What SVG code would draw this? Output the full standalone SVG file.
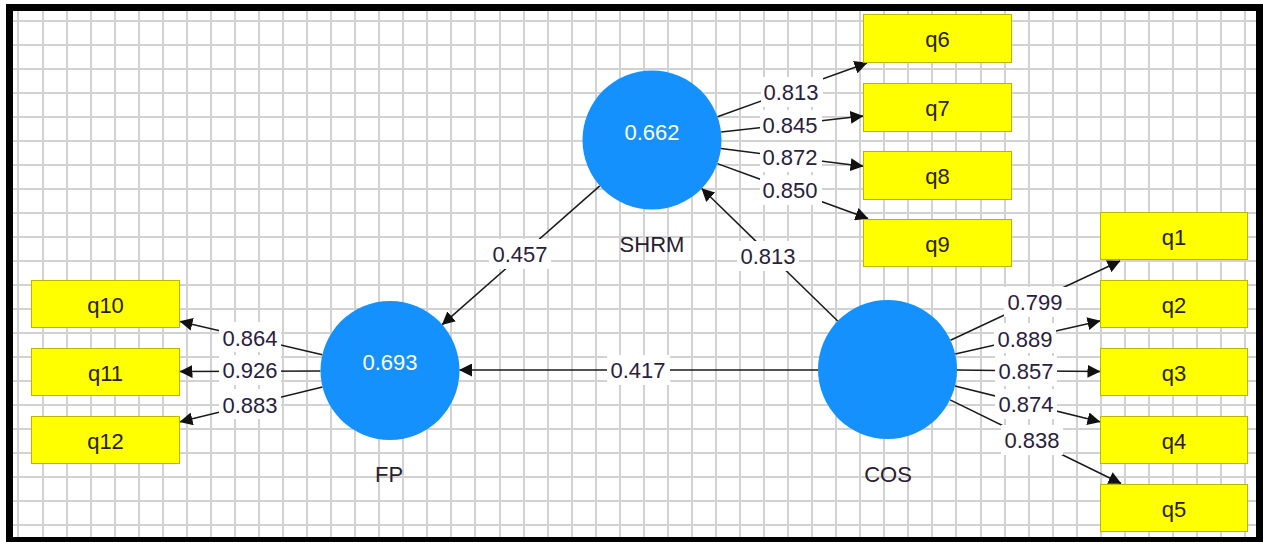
<svg xmlns="http://www.w3.org/2000/svg" width="1263" height="542" viewBox="0 0 1263 542">
<style>
text{font-family:"Liberation Sans",Arial,sans-serif;font-size:22px;text-anchor:middle}
.grid{stroke:#d2d2d2;stroke-width:2;fill:none}
.c{fill:#1591fe}
.cv{fill:#ffffff}
.nm{fill:#2a2030}
.box{fill:#ffff00;stroke:#b8b800;stroke-width:1}
.bt{fill:#2a2010}
.ln{stroke:#1a1a1a;stroke-width:1.5;fill:none;marker-end:url(#ah)}
.lb{fill:#ffffff}
.lt{fill:#2a2040}
</style>
<defs>
<marker id="ah" viewBox="0 0 13 13" markerWidth="13" markerHeight="13" refX="12.5" refY="6.5" orient="auto" markerUnits="userSpaceOnUse">
<path d="M0,0 L13,6.5 L0,13 z" fill="#111"/>
</marker>
</defs>
<rect x="0" y="0" width="1263" height="542" fill="#ffffff"/>
<path class="grid" d="M18 11V537M43 11V537M67 11V537M91 11V537M115 11V537M139 11V537M163 11V537M187 11V537M211 11V537M235 11V537M259 11V537M283 11V537M307 11V537M331 11V537M355 11V537M379 11V537M403 11V537M427 11V537M451 11V537M475 11V537M500 11V537M524 11V537M548 11V537M572 11V537M596 11V537M620 11V537M644 11V537M668 11V537M692 11V537M716 11V537M740 11V537M764 11V537M788 11V537M812 11V537M836 11V537M860 11V537M884 11V537M908 11V537M932 11V537M956 11V537M981 11V537M1005 11V537M1029 11V537M1053 11V537M1077 11V537M1101 11V537M1125 11V537M1149 11V537M1173 11V537M1197 11V537M1221 11V537M1245 11V537M13 21H1256M13 45H1256M13 69H1256M13 93H1256M13 117H1256M13 141H1256M13 165H1256M13 189H1256M13 213H1256M13 237H1256M13 261H1256M13 285H1256M13 309H1256M13 333H1256M13 357H1256M13 381H1256M13 405H1256M13 429H1256M13 453H1256M13 477H1256M13 501H1256M13 525H1256"/>
<g id="connectors">
<line class="ln" x1="717.5" y1="116.7" x2="867" y2="63"/>
<line class="ln" x1="721.1" y1="132.1" x2="863" y2="116"/>
<line class="ln" x1="721" y1="148.6" x2="863" y2="166.2"/>
<line class="ln" x1="717.4" y1="163.6" x2="868" y2="218.5"/>
<line class="ln" x1="950.5" y1="340.2" x2="1120" y2="261"/>
<line class="ln" x1="955.2" y1="354" x2="1100" y2="320.9"/>
<line class="ln" x1="957" y1="370.1" x2="1100" y2="371.4"/>
<line class="ln" x1="955" y1="386.1" x2="1100" y2="421.8"/>
<line class="ln" x1="950.1" y1="399.8" x2="1121" y2="483.5"/>
<line class="ln" x1="322.3" y1="354.7" x2="180" y2="321.4"/>
<line class="ln" x1="320.5" y1="370.9" x2="180" y2="371.6"/>
<line class="ln" x1="322.5" y1="387" x2="180" y2="421.8"/>
<line class="ln" x1="599.8" y1="185.9" x2="442.2" y2="324.6"/>
<line class="ln" x1="837.7" y1="321" x2="701.8" y2="188.5"/>
<line class="ln" x1="818" y1="370" x2="459.5" y2="370"/>
<g id="labels">
<rect class="lb" x="761" y="77" width="62" height="30"/>
<rect class="lb" x="760" y="110" width="62" height="30"/>
<rect class="lb" x="760" y="142" width="62" height="30"/>
<rect class="lb" x="760" y="175" width="62" height="30"/>
<rect class="lb" x="489" y="239" width="62" height="30"/>
<rect class="lb" x="737" y="241" width="62" height="30"/>
<rect class="lb" x="607" y="355" width="63" height="30"/>
<rect class="lb" x="219" y="322" width="62" height="30"/>
<rect class="lb" x="219" y="355" width="62" height="30"/>
<rect class="lb" x="219" y="389" width="62" height="30"/>
<rect class="lb" x="1004" y="287" width="62" height="30"/>
<rect class="lb" x="994" y="323" width="62" height="30"/>
<rect class="lb" x="995" y="356" width="62" height="30"/>
<rect class="lb" x="995" y="389" width="62" height="30"/>
<rect class="lb" x="1001" y="425" width="62" height="30"/>
<text class="lt" x="791" y="100">0.813</text>
<text class="lt" x="790" y="133">0.845</text>
<text class="lt" x="790" y="165">0.872</text>
<text class="lt" x="790" y="198">0.850</text>
<text class="lt" x="520" y="262">0.457</text>
<text class="lt" x="768" y="264">0.813</text>
<text class="lt" x="638" y="378">0.417</text>
<text class="lt" x="250" y="346">0.864</text>
<text class="lt" x="250" y="378">0.926</text>
<text class="lt" x="250" y="413">0.883</text>
<text class="lt" x="1035" y="310">0.799</text>
<text class="lt" x="1025" y="347">0.889</text>
<text class="lt" x="1026" y="379">0.857</text>
<text class="lt" x="1026" y="412">0.874</text>
<text class="lt" x="1032" y="448">0.838</text>
</g>
</g>
<g id="SHRM">
<circle class="c" cx="652" cy="140" r="69.5"/>
<text class="cv" x="652" y="140">0.662</text>
<text class="nm" x="652" y="252">SHRM</text>
</g>
<g id="FP">
<circle class="c" cx="390" cy="370.5" r="69.5"/>
<text class="cv" x="390" y="370">0.693</text>
<text class="nm" x="389" y="482">FP</text>
</g>
<g id="COS">
<circle class="c" cx="887.5" cy="369.5" r="69.5"/>
<text class="nm" x="888" y="482">COS</text>
</g>
<g id="q6"><rect class="box" x="863.5" y="14.5" width="148" height="48"/><text class="bt" x="937.5" y="47">q6</text></g>
<g id="q7"><rect class="box" x="863.5" y="83.5" width="148" height="48"/><text class="bt" x="937.5" y="116">q7</text></g>
<g id="q8"><rect class="box" x="863.5" y="151.5" width="148" height="48"/><text class="bt" x="937.5" y="184">q8</text></g>
<g id="q9"><rect class="box" x="863.5" y="219.5" width="148" height="47"/><text class="bt" x="937.5" y="251.5">q9</text></g>
<g id="q1"><rect class="box" x="1100.5" y="212.5" width="147" height="47"/><text class="bt" x="1174" y="244.5">q1</text></g>
<g id="q2"><rect class="box" x="1100.5" y="280.5" width="147" height="47"/><text class="bt" x="1174" y="312.5">q2</text></g>
<g id="q3"><rect class="box" x="1100.5" y="348.5" width="147" height="47"/><text class="bt" x="1174" y="380.5">q3</text></g>
<g id="q4"><rect class="box" x="1100.5" y="416.5" width="147" height="47"/><text class="bt" x="1174" y="448.5">q4</text></g>
<g id="q5"><rect class="box" x="1100.5" y="484.5" width="147" height="47"/><text class="bt" x="1174" y="516.5">q5</text></g>
<g id="q10"><rect class="box" x="31.5" y="280.5" width="148" height="47"/><text class="bt" x="105.5" y="312.5">q10</text></g>
<g id="q11"><rect class="box" x="31.5" y="348.5" width="148" height="47"/><text class="bt" x="105.5" y="380.5">q11</text></g>
<g id="q12"><rect class="box" x="31.5" y="416.5" width="148" height="47"/><text class="bt" x="105.5" y="448.5">q12</text></g>
<rect x="9.5" y="7.5" width="1250" height="533" fill="none" stroke="#000" stroke-width="7"/>
</svg>
